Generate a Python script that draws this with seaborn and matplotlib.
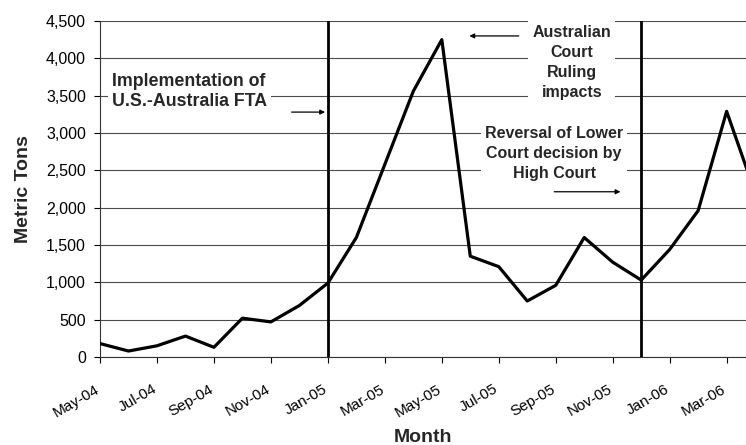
import numpy as np
import pandas as pd
import matplotlib
matplotlib.use("Agg")
import matplotlib.pyplot as plt
import matplotlib.transforms as mtransforms
import seaborn as sns

# Datos
months = ["May-04", "Jun-04", "Jul-04", "Aug-04", "Sep-04", "Oct-04", "Nov-04", "Dec-04",
          "Jan-05", "Feb-05", "Mar-05", "Apr-05", "May-05", "Jun-05", "Jul-05", "Aug-05",
          "Sep-05", "Oct-05", "Nov-05", "Dec-05", "Jan-06", "Feb-06", "Mar-06", "Apr-06"]
tons = [180, 80, 150, 280, 130, 520, 470, 690,
        990, 1600, 2580, 3560, 4250, 1350, 1210, 750,
        960, 1600, 1270, 1030, 1440, 1960, 3290, 2200]
event_months = ["Jan-05", "Dec-05"]
y_ticks = [0, 500, 1000, 1500, 2000, 2500, 3000, 3500, 4000, 4500]

df = pd.DataFrame({"idx": np.arange(len(months)), "month": months, "tons": tons})

sns.set_style("white")
plt.rcParams["font.family"] = ["Liberation Sans", "DejaVu Sans"]

fig = plt.figure(figsize=(7.46, 4.45), dpi=100)
ax = fig.add_axes([100 / 746, 88 / 445, 646 / 746, 336 / 445])

ax.yaxis.grid(True, color="#4a4a4a", lw=0.8)
ax.set_axisbelow(True)

sns.lineplot(data=df, x="idx", y="tons", color="black", lw=2.3, ax=ax, zorder=3)

for m in event_months:
    ax.axvline(months.index(m), color="black", lw=2.0, zorder=4)

ax.set_xlim(0, 22.68)
ax.set_ylim(0, 4500)
ax.set_yticks(y_ticks)
ax.set_yticklabels([f"{v:,}" for v in y_ticks])
ax.set_xticks(df["idx"][::2])
ax.set_xticklabels(months[::2], rotation=30, ha="right", va="top",
                   rotation_mode="anchor")

ax.tick_params(axis="both", colors="black", length=4, width=0.8,
               direction="out", bottom=True, left=True)
ax.tick_params(axis="y", labelsize=11.5, pad=6)
ax.tick_params(axis="x", labelsize=11, pad=14)

for s in ["top", "right"]:
    ax.spines[s].set_visible(False)
for s in ["left", "bottom"]:
    ax.spines[s].set_color("#333333")
    ax.spines[s].set_linewidth(0.8)

ax.set_xlabel("Month", fontsize=14, fontweight="bold", va="center")
ax.xaxis.set_label_coords(0.5, (357 - 437) / 336)
ax.set_ylabel("Metric Tons", fontsize=14, fontweight="bold", labelpad=10)

# Anotaciones
box = dict(facecolor="white", edgecolor="none", pad=3)
ax.text(0.42, 3555, "Implementation of\nU.S.-Australia FTA", fontsize=12.8,
        fontweight="bold", ha="left", va="center", linespacing=1.25,
        bbox=box, zorder=5)
ax.annotate("", xy=(8.0, 3280), xytext=(6.63, 3280),
            arrowprops=dict(arrowstyle="-|>", color="black", lw=0.9,
                            mutation_scale=7), zorder=5)

ax.text(16.57, 3943, "Australian\nCourt\nRuling\nimpacts", fontsize=11.5,
        fontweight="bold", ha="center", va="center", linespacing=1.4,
        bbox=box, zorder=5)
ax.annotate("", xy=(12.87, 4300), xytext=(14.8, 4300),
            arrowprops=dict(arrowstyle="-|>", color="black", lw=0.9,
                            mutation_scale=7), zorder=5)

ax.text(15.94, 2726, "Reversal of Lower\nCourt decision by\nHigh Court", fontsize=11.5,
        fontweight="bold", ha="center", va="center", linespacing=1.4,
        bbox=box, zorder=5)
ax.annotate("", xy=(18.37, 2213), xytext=(15.85, 2213),
            arrowprops=dict(arrowstyle="-|>", color="black", lw=0.9,
                            mutation_scale=7), zorder=5)

# desplazar etiquetas del eje x un poco a la izquierda (tras crear los ticks)
fig.canvas.draw()
shift = mtransforms.ScaledTranslation(-5 / 100, 0, fig.dpi_scale_trans)
for lbl in ax.xaxis.get_majorticklabels():
    lbl.set_transform(lbl.get_transform() + shift)

fig.savefig("out.png", dpi=100)
